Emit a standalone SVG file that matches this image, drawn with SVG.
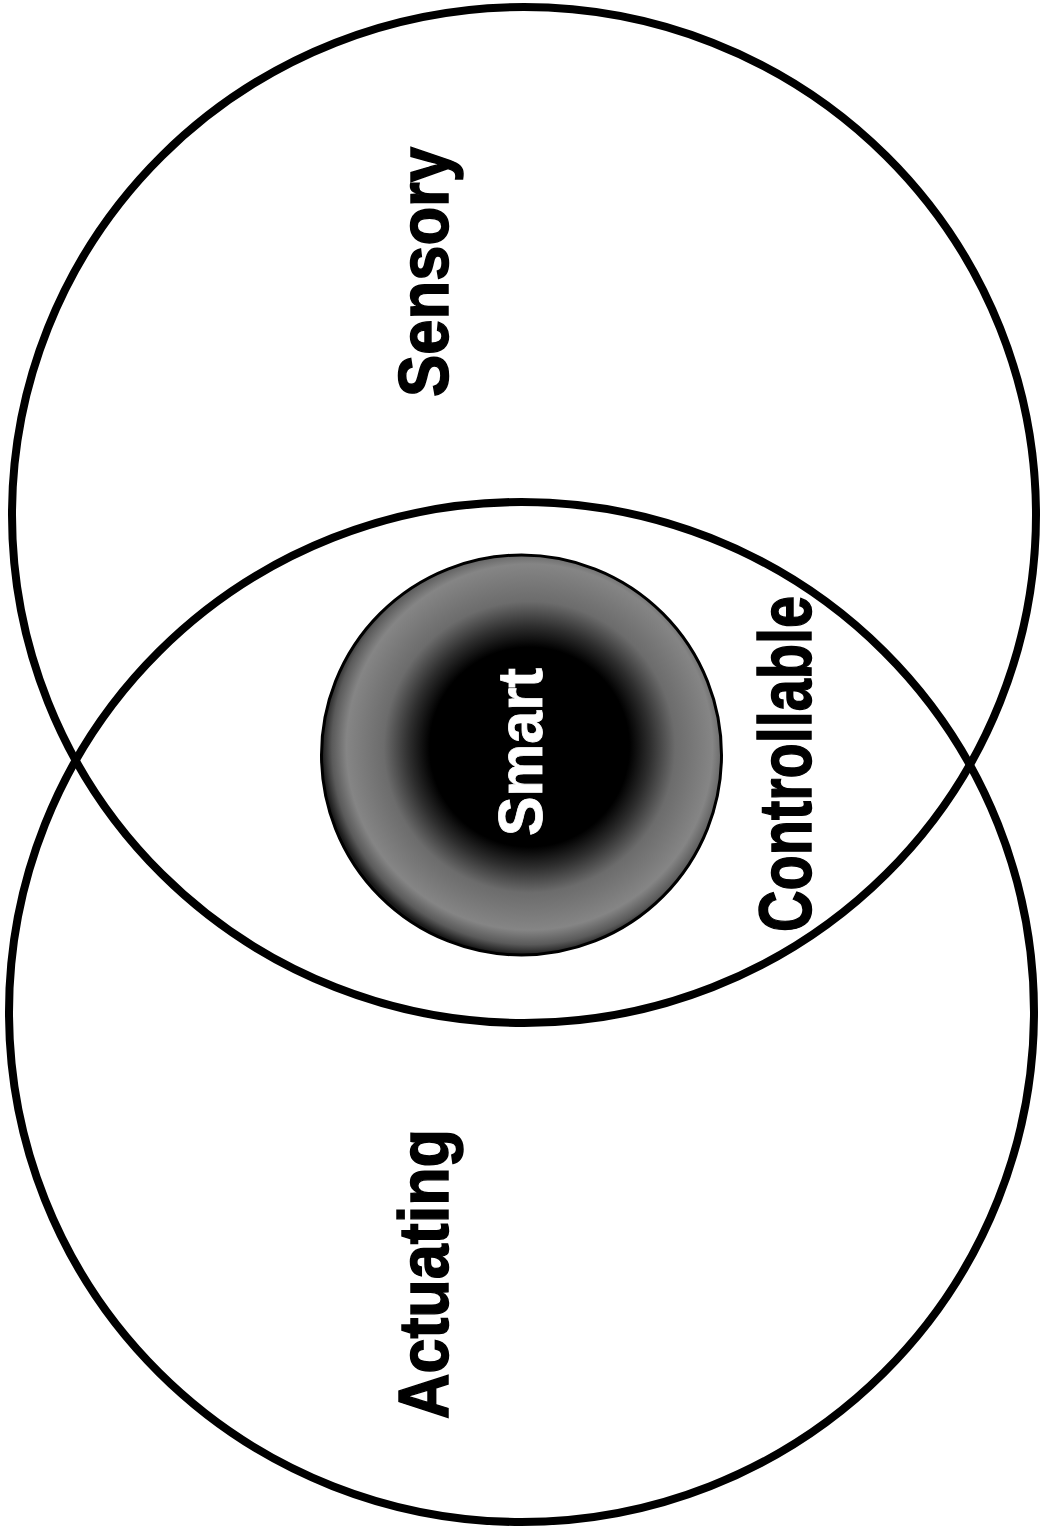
<svg xmlns="http://www.w3.org/2000/svg" width="1042" height="1533" viewBox="0 0 1042 1533">
  <style>
    .ring { fill: none; stroke: #000; stroke-width: 8; }
    .lbl { font-family: "Liberation Sans", Arial, sans-serif; font-weight: bold; text-anchor: middle; fill: #000; stroke: #000; stroke-width: 1.5; }
    .white { fill: #fff; stroke: #fff; stroke-width: 0.8; }
  </style>
  <defs>
    <radialGradient id="smartGrad" cx="0.52" cy="0.48" r="0.52" fx="0.52" fy="0.48">
      <stop offset="0" stop-color="#000"/>
      <stop offset="0.48" stop-color="#000"/>
      <stop offset="0.58" stop-color="#2e2e2e"/>
      <stop offset="0.7" stop-color="#6c6c6c"/>
      <stop offset="0.88" stop-color="#858585"/>
      <stop offset="0.95" stop-color="#5a5a5a"/>
      <stop offset="1" stop-color="#1a1a1a"/>
    </radialGradient>
  </defs>
  <rect x="0" y="0" width="1042" height="1533" fill="#fff"/>
  <g id="sensory">
    <ellipse class="ring" cx="524" cy="515" rx="512" ry="508"/>
    <text class="lbl" font-size="70" textLength="250" lengthAdjust="spacingAndGlyphs" transform="translate(448,272) rotate(-90)">Sensory</text>
  </g>
  <g id="actuating">
    <ellipse class="ring" cx="521.5" cy="1012" rx="512.5" ry="510"/>
    <text class="lbl" font-size="70" textLength="290" lengthAdjust="spacingAndGlyphs" transform="translate(448,1274) rotate(-90)">Actuating</text>
  </g>
  <g id="controllable">
    <text class="lbl" font-size="74" textLength="336" lengthAdjust="spacingAndGlyphs" transform="translate(811,764) rotate(-90)">Controllable</text>
  </g>
  <g id="smart">
    <circle cx="521.5" cy="755" r="200" fill="url(#smartGrad)" stroke="#000" stroke-width="3"/>
    <text class="lbl white" font-size="63" textLength="168" lengthAdjust="spacingAndGlyphs" transform="translate(542,752) rotate(-90)">Smart</text>
  </g>
  <g id="connectors"/>
</svg>
